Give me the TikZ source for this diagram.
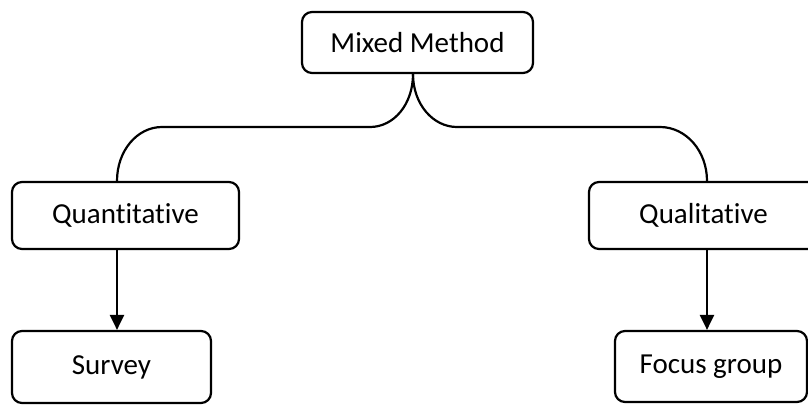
\documentclass[tikz,border=0pt]{standalone}
\usepackage{fontspec}
\setmainfont[Ligatures=NoCommon]{Carlito}
\usetikzlibrary{arrows.meta}
\begin{document}
\begin{tikzpicture}[x=1pt,y=-1pt,
  box/.style={draw,line width=2.2pt,rounded corners=10pt,inner sep=0pt,
              font=\fontsize{29}{34}\selectfont},
  link/.style={line width=2.2pt},
  arrowlink/.style={line width=2.2pt,-{Triangle[length=15pt,width=14pt]}}]
\useasboundingbox (0,0) rectangle (808,405);
\begin{scope}
\clip (0,0) rectangle (808,405);
% boxes
\node[box,minimum width=231pt,minimum height=61pt] (mm) at (417.5,42.5) {Mixed Method};
\node[box,minimum width=227pt,minimum height=67pt] (quant) at (125.5,215.5) {Quantitative};
\node[box,minimum width=229pt,minimum height=67pt] (qual) at (703.5,215.5) {Qualitative};
\node[box,minimum width=199pt,minimum height=72pt] (survey) at (111.5,367) {Survey};
\node[box,minimum width=192pt,minimum height=71pt] (focus) at (711,366.5) {Focus group};
% attachment points
\coordinate (top) at ([xshift=-4.5pt]mm.south);
\coordinate (qnin) at ([xshift=-8.5pt]quant.north);
\coordinate (qsout) at ([xshift=-8.5pt]quant.south);
\coordinate (lnin) at ([xshift=3.5pt]qual.north);
\coordinate (lsout) at ([xshift=3.5pt]qual.south);
% brace-shaped split
\draw[link] (top) .. controls +(0,30) and +(24,0) .. (370,127)
  -- (162,127) .. controls +(-25,0) and +(0,-30) .. (qnin);
\draw[link] (top) .. controls +(0,30) and +(-24,0) .. (457,127)
  -- (660,127) .. controls +(26,0) and +(0,-30) .. (lnin);
% arrows
\draw[arrowlink] (qsout) -- (qsout |- survey.north);
\draw[arrowlink] (lsout) -- (lsout |- focus.north);
\end{scope}
\end{tikzpicture}
\end{document}
